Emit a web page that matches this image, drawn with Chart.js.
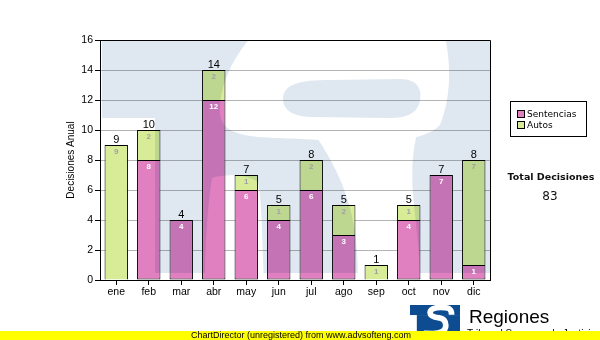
<!DOCTYPE html>
<html>
<head>
<meta charset="utf-8">
<script src="https://cdn.jsdelivr.net/npm/chart.js@4.4.0/dist/chart.umd.min.js"></script>
<style>
  body { margin: 0; background: #fff; }
  canvas { display: block; }
</style>
</head>
<body>
<canvas id="decisionesChart" width="600" height="340"></canvas>
<script>
const months = ['ene', 'feb', 'mar', 'abr', 'may', 'jun', 'jul', 'ago', 'sep', 'oct', 'nov', 'dic']
const sentencias = [0, 8, 4, 12, 6, 4, 6, 3, 0, 4, 7, 1]
const autos = [9, 2, 0, 2, 1, 1, 2, 2, 1, 1, 0, 7]
const seriesNames = ['Sentencias', 'Autos']
const seriesColors = ['#e080c0', '#d8ec98']
const valueColors = ['#ffffff', '#a0a0a0']
const yMax = 16
const yStep = 2

// small logo S, in a 388 x 233 box
function traceS(ctx) {
  ctx.beginPath()
  ctx.moveTo(323, 75)
  ctx.bezierCurveTo(323, 25, 298, 18, 238, 18)
  ctx.bezierCurveTo(188, 18, 156, 35, 156, 60)
  ctx.bezierCurveTo(156, 85, 188, 95, 228, 100)
  ctx.bezierCurveTo(263, 105, 278, 125, 278, 160)
  ctx.bezierCurveTo(278, 205, 228, 222, 178, 222)
  ctx.bezierCurveTo(128, 222, 98, 220, 98, 218)
}

function drawLogo(ctx, x, y, scale, blue) {
  ctx.save()
  ctx.translate(x, y)
  ctx.scale(scale, scale)
  ctx.fillStyle = blue
  ctx.fillRect(0, 0, 388, 78)
  ctx.fillRect(53, 78, 335, 155)
  ctx.strokeStyle = '#fff'
  ctx.lineWidth = 44
  traceS(ctx)
  ctx.stroke()
  ctx.restore()
}

// big faded emblem behind the bars (page coordinates)
function drawWatermark(ctx, blue) {
  ctx.fillStyle = blue
  ctx.fillRect(102, 40, 388, 78)
  ctx.fillRect(155, 118, 335, 155)

  ctx.fillStyle = '#fff'
  // upper bowl of the S
  ctx.beginPath()
  ctx.moveTo(252, 36)
  ctx.lineTo(445, 36)
  ctx.bezierCurveTo(452, 70, 450, 100, 440, 125)
  ctx.bezierCurveTo(425, 142, 370, 146, 330, 141)
  ctx.bezierCurveTo(280, 135, 225, 145, 220, 115)
  ctx.bezierCurveTo(218, 85, 235, 55, 252, 36)
  ctx.closePath()
  ctx.fill()
  // spine and lower bowl
  ctx.beginPath()
  ctx.moveTo(316, 136)
  ctx.lineTo(418, 130)
  ctx.bezierCurveTo(404, 180, 420, 220, 420, 282)
  ctx.lineTo(358, 282)
  ctx.bezierCurveTo(358, 230, 352, 190, 316, 136)
  ctx.closePath()
  ctx.fill()
  // lower terminal
  ctx.beginPath()
  ctx.moveTo(212, 178)
  ctx.bezierCurveTo(207, 210, 205, 250, 205, 282)
  ctx.lineTo(264, 282)
  ctx.bezierCurveTo(262, 240, 262, 200, 258, 182)
  ctx.bezierCurveTo(245, 174, 225, 174, 212, 178)
  ctx.closePath()
  ctx.fill()

  // hole of the upper bowl
  ctx.fillStyle = blue
  ctx.beginPath()
  ctx.moveTo(283, 99)
  ctx.bezierCurveTo(283, 84, 300, 80, 330, 80)
  ctx.lineTo(400, 79)
  ctx.bezierCurveTo(418, 79, 422, 90, 420, 100)
  ctx.bezierCurveTo(418, 114, 405, 118, 390, 118)
  ctx.lineTo(310, 117)
  ctx.bezierCurveTo(292, 116, 283, 110, 283, 99)
  ctx.closePath()
  ctx.fill()
}

const decoration = {
  id: 'decoration',
  afterDatasetsDraw(chart) {
    const ctx = chart.ctx
    const area = chart.chartArea

    // emblem tinted over the plot
    const off = document.createElement('canvas')
    off.width = chart.width
    off.height = chart.height
    const octx = off.getContext('2d')
    octx.fillStyle = '#fff'
    octx.fillRect(0, 0, off.width, off.height)
    drawWatermark(octx, '#dfe8f1')
    ctx.save()
    ctx.beginPath()
    ctx.rect(area.left, area.top, area.right - area.left, area.bottom - area.top)
    ctx.clip()
    ctx.globalCompositeOperation = 'multiply'
    ctx.drawImage(off, 0, 0)
    ctx.restore()

    ctx.save()
    ctx.textAlign = 'center'
    // value of each segment
    ctx.font = 'bold 8px "Liberation Sans"'
    ctx.textBaseline = 'middle'
    chart.data.datasets.forEach((ds, i) => {
      chart.getDatasetMeta(i).data.forEach((bar, j) => {
        if (!ds.data[j]) return
        ctx.fillStyle = valueColors[i]
        ctx.fillText(ds.data[j], bar.x, bar.y + 7)
      })
    })
    // stack totals
    ctx.font = '11px "Liberation Sans"'
    ctx.textBaseline = 'alphabetic'
    ctx.fillStyle = '#000'
    const yScale = chart.scales.y
    months.forEach((m, j) => {
      const total = sentencias[j] + autos[j]
      const x = chart.getDatasetMeta(0).data[j].x
      ctx.fillText(total, x, yScale.getPixelForValue(total) - 2)
    })
    ctx.restore()
  },
  afterDraw(chart) {
    const ctx = chart.ctx
    const area = chart.chartArea
    ctx.save()
    ctx.strokeStyle = '#000'
    ctx.lineWidth = 1
    ctx.beginPath()
    ctx.moveTo(area.left, area.top + 0.5)
    ctx.lineTo(area.right + 0.5, area.top + 0.5)
    ctx.lineTo(area.right + 0.5, area.bottom)
    ctx.stroke()

    // legend box
    ctx.strokeRect(510.5, 101.5, 76, 35)
    ctx.font = '9px "DejaVu Sans"'
    ctx.textBaseline = 'middle'
    seriesNames.forEach((name, i) => {
      const y = 114 + i * 11
      ctx.fillStyle = seriesColors[i]
      ctx.fillRect(517.5, y - 3.5, 7, 7)
      ctx.strokeRect(517.5, y - 3.5, 7, 7)
      ctx.fillStyle = '#000'
      ctx.fillText(name, 527, y + 0.5)
    })

    // grand total
    const total = sentencias.concat(autos).reduce((a, b) => a + b, 0)
    ctx.textAlign = 'center'
    ctx.fillStyle = '#111'
    ctx.font = 'bold 9.5px "DejaVu Sans"'
    ctx.fillText('Total Decisiones', 551, 178)
    ctx.font = '12px "DejaVu Sans"'
    ctx.fillText(total, 550, 197)

    // footer
    drawLogo(ctx, 410, 305, 50 / 388, '#0e4c92')
    ctx.textAlign = 'left'
    ctx.fillStyle = '#000'
    ctx.textBaseline = 'alphabetic'
    ctx.font = '19px "Liberation Sans"'
    ctx.fillText('Regiones', 469, 323)
    ctx.textBaseline = 'top'
    ctx.font = '10px "Liberation Sans"'
    ctx.fillText('Tribunal Supremo de Justicia', 467, 329)
    ctx.fillStyle = '#ffff00'
    ctx.fillRect(0, 331, 600, 9)
    ctx.fillStyle = '#000'
    ctx.textAlign = 'center'
    ctx.textBaseline = 'middle'
    ctx.font = '9px "Liberation Sans"'
    ctx.fillText('ChartDirector (unregistered) from www.advsofteng.com', 301, 336)
    ctx.restore()
  }
}

Chart.defaults.font.family = '"Liberation Sans", Arial, sans-serif'
Chart.defaults.color = '#000'

new Chart(document.getElementById('decisionesChart'), {
  type: 'bar',
  data: {
    labels: months,
    datasets: [
      { label: seriesNames[0], data: sentencias.map(v => v || null), backgroundColor: seriesColors[0], borderSkipped: false },
      { label: seriesNames[1], data: autos.map(v => v || null), backgroundColor: seriesColors[1], borderSkipped: 'bottom' },
    ]
  },
  options: {
    responsive: false,
    animation: false,
    layout: { padding: { left: 60, right: 110, top: 40, bottom: 40 } },
    datasets: {
      bar: {
        borderColor: '#000',
        borderWidth: 1,
        categoryPercentage: 1,
        barPercentage: 0.72,
      }
    },
    scales: {
      x: {
        stacked: true,
        afterFit: scale => { scale.height = 20 },
        grid: { drawOnChartArea: false, offset: false, tickColor: '#000', tickLength: 5 },
        border: { color: '#000' },
        ticks: { font: { size: 10.5 }, padding: 1 },
      },
      y: {
        stacked: true,
        min: 0,
        max: yMax,
        afterFit: scale => { scale.width = 40 },
        grid: { color: '#b4b4b4', tickColor: '#000', tickLength: 5 },
        border: { color: '#000' },
        ticks: { stepSize: yStep, font: { size: 10.5 }, padding: 2 },
        title: { display: true, text: 'Decisiones Anual', font: { size: 10 }, padding: { top: 5 } },
      }
    },
    plugins: {
      legend: { display: false },
      tooltip: { enabled: false },
    }
  },
  plugins: [decoration]
})
</script>
</body>
</html>
